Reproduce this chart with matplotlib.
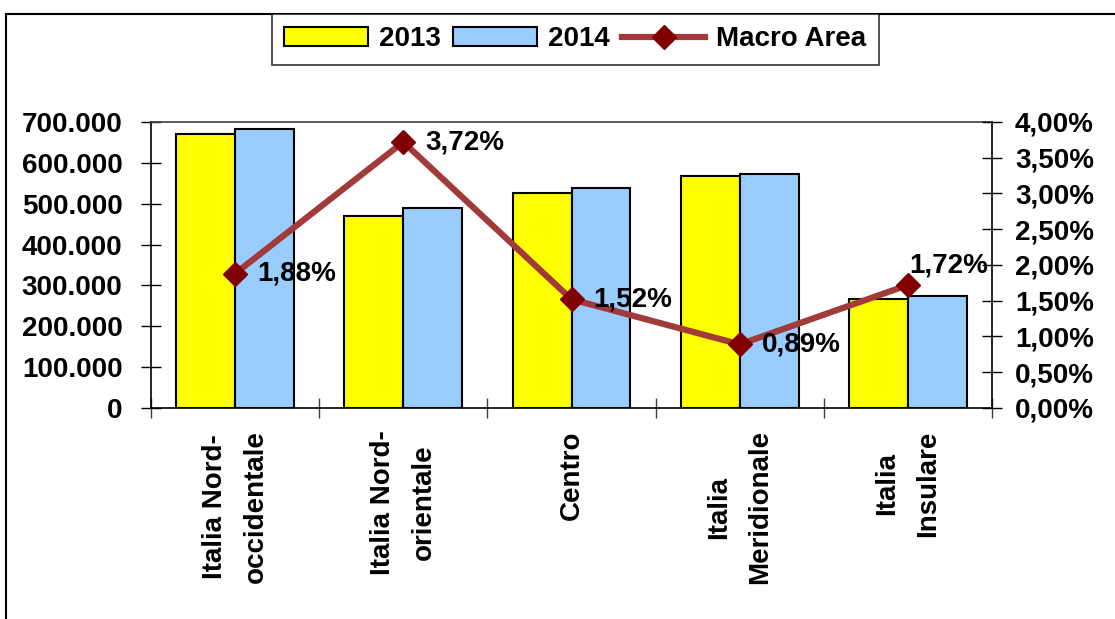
import matplotlib
matplotlib.use("Agg")
import matplotlib.pyplot as plt
import numpy as np
from matplotlib.lines import Line2D
from matplotlib.ticker import FuncFormatter, MultipleLocator

categories = ["Italia Nord-\noccidentale", "Italia Nord-\norientale", "Centro",
              "Italia\nMeridionale", "Italia\nInsulare"]
values_2013 = [670000, 470000, 527000, 567000, 268000]
values_2014 = [684000, 489000, 538000, 573000, 274000]
macro_area = [1.88, 3.72, 1.52, 0.89, 1.72]
series_names = ["2013", "2014", "Macro Area"]

plt.rcParams['font.family'] = ['Liberation Sans', 'DejaVu Sans']
plt.rcParams['font.weight'] = 'bold'

W, H = 1115, 619
fig = plt.figure(figsize=(W / 100, H / 100), dpi=100)
ax = fig.add_axes([151 / W, 1 - 408 / H, (992 - 151) / W, (408 - 122) / H])

x = np.arange(len(categories))
bw = 0.35
b1 = ax.bar(x - bw / 2, values_2013, bw, color='#FFFF00', edgecolor='black', linewidth=1.5, zorder=2)
b2 = ax.bar(x + bw / 2, values_2014, bw, color='#99CCFF', edgecolor='black', linewidth=1.5, zorder=2)
ax.set_xlim(-0.5, len(categories) - 0.5)
ax.set_ylim(0, 700000)
ax.yaxis.set_major_locator(MultipleLocator(100000))
ax.yaxis.set_major_formatter(FuncFormatter(lambda v, p: f"{int(v):,}".replace(",", ".")))
ax.set_xticks(np.arange(len(categories) + 1) - 0.5, minor=False)
ax.set_xticklabels([])
ax.set_xticks(x, minor=True)
ax.set_xticklabels(categories, minor=True, rotation=90, fontsize=20, fontweight='bold',
                   multialignment='center', linespacing=1.75)
ax.tick_params(axis='x', which='minor', length=0, pad=16)
ax.tick_params(axis='x', which='major', direction='inout', length=14, width=1, color='#404040')
ax.tick_params(axis='y', direction='inout', length=14, width=1, labelsize=20, pad=13.5)
for s in ['top', 'bottom', 'left']:
    ax.spines[s].set_linewidth(1.2)
ax.spines['top'].set_color('#404040')
ax.spines['right'].set_visible(False)

ax2 = ax.twinx()
ax2.set_ylim(0, 4.0)
ax2.yaxis.set_major_locator(MultipleLocator(0.5))
ax2.yaxis.set_major_formatter(FuncFormatter(lambda v, p: f"{v:.2f}%".replace(".", ",")))
ax2.tick_params(axis='y', direction='inout', length=14, width=1, labelsize=20, pad=9.5)
for s in ['top', 'bottom', 'left']:
    ax2.spines[s].set_visible(False)
ax2.spines['right'].set_linewidth(1.2)
ln, = ax2.plot(x, macro_area, color='#A33A3A', linewidth=4.5, marker='D', markersize=12.5,
               markerfacecolor='#800000', markeredgecolor='#800000', zorder=3)
for i, v in enumerate(macro_area):
    lbl = f"{v:.2f}%".replace(".", ",")
    if i == len(macro_area) - 1:
        ax2.annotate(lbl, (x[i], v), xytext=(1, 14), textcoords='offset points',
                     ha='left', va='center', fontsize=20, fontweight='bold')
    else:
        ax2.annotate(lbl, (x[i], v), xytext=(16, 0), textcoords='offset points',
                     ha='left', va='center', fontsize=20, fontweight='bold')

leg = fig.legend([b1, b2, ln], series_names, loc='upper center',
                 bbox_to_anchor=((268 + 883) / 2 / W, 1 - 14 / H), ncol=3,
                 prop={'size': 20, 'weight': 'bold'}, frameon=True, fancybox=False,
                 handlelength=3.0, handleheight=0.65, handletextpad=0.4, columnspacing=0.45,
                 borderpad=0.45, borderaxespad=0)
leg.get_frame().set_edgecolor('black')
leg.get_frame().set_linewidth(1.2)

# outer chart border (left and top visible)
fig.add_artist(Line2D([6 / W, 6 / W], [0, 1 - 14 / H], transform=fig.transFigure, color='black', linewidth=1.5))
fig.add_artist(Line2D([6 / W, 1], [1 - 14 / H, 1 - 14 / H], transform=fig.transFigure, color='black', linewidth=1.5))

fig.savefig("out.png", dpi=100)
